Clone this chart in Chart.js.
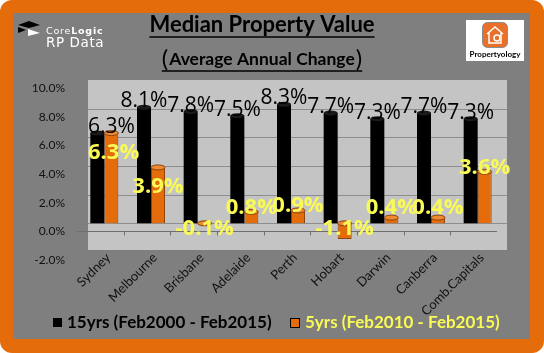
<!DOCTYPE html>
<html lang="en">
<head>
<meta charset="UTF-8">
<title>Median Property Value</title>
<script src="https://cdn.jsdelivr.net/npm/chart.js"></script>
<style>
  html, body { margin: 0; padding: 0; background: #fff; }
  #wrap { width: 544px; height: 353px; }
</style>
</head>
<body>
<div id="wrap"><canvas id="valueChart" width="544" height="353"></canvas></div>
<script>
const cities = ['Sydney', 'Melbourne', 'Brisbane', 'Adelaide', 'Perth', 'Hobart', 'Darwin', 'Canberra', 'Comb.Capitals'];
const change15yrs = [6.3, 8.1, 7.8, 7.5, 8.3, 7.7, 7.3, 7.7, 7.3];
const change5yrs = [6.3, 3.9, -0.1, 0.8, 0.9, -1.1, 0.4, 0.4, 3.6];
const yTicks = [-2, 0, 2, 4, 6, 8, 10];
const seriesNames = ['15yrs (Feb2000 - Feb2015)', '5yrs (Feb2010 - Feb2015)'];

const ORANGE = '#E46C0A';
const ORANGE_EDGE = '#8a4510';
const PANEL = '#7f7f7f';
const WALL = '#c4c4c4';
const YELLOW = '#FAFA55';
const FONT = 'Lato, "Open Sans", sans-serif';
const LABEL_FONT = '"Open Sans", Lato, sans-serif';

function pct(v) { return v.toFixed(1) + '%'; }

// orange frame, grey panel and the light "wall" behind the bars
const framePlugin = {
  id: 'frame',
  beforeDraw(chart) {
    const ctx = chart.ctx;
    const area = chart.chartArea;
    const y = chart.scales.y;
    ctx.save();
    ctx.fillStyle = ORANGE;
    ctx.beginPath();
    ctx.roundRect(0, 0, chart.width, chart.height, 12);
    ctx.fill();
    ctx.fillStyle = PANEL;
    ctx.fillRect(13, 13, 517, 326);

    const wl = area.left + 7, wr = area.right + 6;
    ctx.fillStyle = WALL;
    ctx.fillRect(wl, y.getPixelForValue(10), wr - wl, y.getPixelForValue(-2) - y.getPixelForValue(10) - 2);
    ctx.strokeStyle = '#8e8e8e';
    ctx.lineWidth = 1;
    yTicks.forEach(v => {
      if (v <= -2 || v >= 10) return;
      const py = Math.round(y.getPixelForValue(v)) + 0.5;
      ctx.beginPath();
      ctx.moveTo(wl, py);
      ctx.lineTo(wr, py);
      ctx.stroke();
    });
    // floor front edge with category ticks
    const fy = Math.round(y.getPixelForValue(0)) + 8.5;
    ctx.strokeStyle = '#6f6f6f';
    ctx.beginPath();
    ctx.moveTo(area.left - 4, fy);
    ctx.lineTo(area.right - 4, fy);
    const step = (area.right - area.left) / cities.length;
    for (let i = 1; i < cities.length; i++) {
      const tx = Math.round(area.left + i * step - 4) + 0.5;
      ctx.moveTo(tx, fy);
      ctx.lineTo(tx, fy + 4);
    }
    ctx.stroke();
    ctx.restore();
  }
};

// cylinder caps and value labels
const labelPlugin = {
  id: 'valueLabels',
  afterDatasetsDraw(chart) {
    const ctx = chart.ctx;
    const y = chart.scales.y;
    const wl = chart.chartArea.left + 7;
    ctx.save();
    chart.data.datasets.forEach((ds, di) => {
      chart.getDatasetMeta(di).data.forEach(bar => {
        const top = Math.min(bar.y, bar.base);
        ctx.beginPath();
        ctx.ellipse(bar.x, top, bar.width / 2, 2.5, 0, 0, Math.PI * 2);
        ctx.fillStyle = di === 0 ? '#1a1a1a' : '#f08a30';
        ctx.fill();
        if (di === 1) {
          ctx.strokeStyle = ORANGE_EDGE;
          ctx.lineWidth = 1;
          ctx.stroke();
        }
      });
    });

    ctx.textAlign = 'left';
    ctx.textBaseline = 'alphabetic';
    ctx.font = '21px ' + LABEL_FONT;
    chart.getDatasetMeta(0).data.forEach((bar, i) => {
      const v = change15yrs[i];
      const txt = pct(v);
      const w = ctx.measureText(txt).width;
      ctx.fillStyle = '#000';
      ctx.fillText(txt, Math.max(wl, bar.x - w / 2), y.getPixelForValue(v));
    });
    ctx.font = 'bold 22px ' + LABEL_FONT;
    chart.getDatasetMeta(1).data.forEach((bar, i) => {
      const v = change5yrs[i];
      const txt = pct(v);
      const w = ctx.measureText(txt).width;
      let by;
      if (v >= 3.8) by = y.getPixelForValue(v) + 26;
      else if (v >= 0) by = y.getPixelForValue(Math.max(v, 0.8)) + 2;
      else by = y.getPixelForValue(0) + 12;
      ctx.fillStyle = YELLOW;
      ctx.fillText(txt, Math.max(wl, bar.x - w / 2), by);
    });
    ctx.restore();
  }
};

// titles, logos and legend
const headerPlugin = {
  id: 'header',
  afterDraw(chart) {
    const ctx = chart.ctx;
    ctx.save();
    ctx.textAlign = 'left';
    ctx.textBaseline = 'alphabetic';
    ctx.fillStyle = '#000';
    ctx.strokeStyle = '#000';
    ctx.lineWidth = 1.5;

    // main title
    ctx.font = 'bold 22px ' + FONT;
    const t1 = 'Median Property Value';
    const w1 = ctx.measureText(t1).width;
    ctx.fillText(t1, 262 - w1 / 2, 32);
    ctx.beginPath();
    ctx.moveTo(262 - w1 / 2, 37);
    ctx.lineTo(262 + w1 / 2, 37);
    ctx.stroke();

    // subtitle with tall brackets
    const inner = 'Average Annual Change';
    ctx.font = 'bold 17.5px ' + FONT;
    const wi = ctx.measureText(inner).width;
    ctx.font = '24px ' + FONT;
    const wp = ctx.measureText('(').width;
    const total = wi + 2 * wp + 2;
    const sx = 262 - total / 2;
    ctx.fillText('(', sx, 67);
    ctx.font = 'bold 17.5px ' + FONT;
    ctx.fillText(inner, sx + wp + 1, 65);
    ctx.font = '24px ' + FONT;
    ctx.fillText(')', sx + wp + wi + 2, 67);
    ctx.beginPath();
    ctx.moveTo(sx, 71);
    ctx.lineTo(sx + total, 71);
    ctx.stroke();

    // CoreLogic RP Data mark
    ctx.fillStyle = '#000';
    ctx.beginPath();
    ctx.moveTo(18, 25); ctx.lineTo(29, 21); ctx.lineTo(40, 25); ctx.lineTo(29, 28);
    ctx.closePath(); ctx.fill();
    ctx.beginPath();
    ctx.moveTo(18, 27); ctx.lineTo(26, 30); ctx.lineTo(18, 33);
    ctx.closePath(); ctx.fill();
    ctx.fillStyle = '#fff';
    ctx.beginPath();
    ctx.moveTo(28, 29); ctx.lineTo(40, 33); ctx.lineTo(28, 36);
    ctx.closePath(); ctx.fill();
    ctx.letterSpacing = '0.8px';
    ctx.font = '9.5px "DejaVu Sans", sans-serif';
    ctx.fillText('Core', 46, 34);
    const wc = ctx.measureText('Core').width;
    ctx.font = 'bold 9.5px "DejaVu Sans", sans-serif';
    ctx.fillText('Logic', 46 + wc, 34);
    ctx.letterSpacing = '0.6px';
    ctx.font = '13.5px "DejaVu Sans", sans-serif';
    ctx.fillText('RP Data', 46, 47);
    ctx.letterSpacing = '0px';

    // Propertyology badge
    ctx.fillStyle = '#fff';
    ctx.fillRect(466, 20, 58, 41);
    ctx.fillStyle = '#E8702A';
    ctx.strokeStyle = '#8c8c8c';
    ctx.lineWidth = 1;
    ctx.beginPath();
    ctx.roundRect(482.5, 22.5, 25, 25, 5);
    ctx.fill(); ctx.stroke();
    ctx.strokeStyle = '#fff';
    ctx.lineWidth = 1.5;
    ctx.beginPath();
    ctx.moveTo(487, 34); ctx.lineTo(495, 27); ctx.lineTo(503, 34);
    ctx.moveTo(489, 33); ctx.lineTo(489, 43); ctx.lineTo(501, 43); ctx.lineTo(501, 33);
    ctx.stroke();
    ctx.beginPath();
    ctx.arc(497, 38, 3, 0, Math.PI * 2);
    ctx.stroke();
    ctx.fillStyle = '#000';
    ctx.font = 'bold 8px ' + FONT;
    const wpName = ctx.measureText('Propertyology').width;
    ctx.fillText('Propertyology', 495 - wpName / 2, 57);

    // legend
    ctx.font = 'bold 17px ' + FONT;
    ctx.fillStyle = '#000';
    ctx.fillRect(53, 318, 9, 9);
    ctx.fillText(seriesNames[0], 67, 328);
    ctx.fillStyle = ORANGE;
    ctx.fillRect(290.5, 318.5, 9, 9);
    ctx.strokeStyle = '#000';
    ctx.lineWidth = 1;
    ctx.strokeRect(290.5, 318.5, 9, 9);
    ctx.fillStyle = YELLOW;
    ctx.fillText(seriesNames[1], 305, 328);
    ctx.restore();
  }
};

new Chart(document.getElementById('valueChart'), {
  type: 'bar',
  data: {
    labels: cities,
    datasets: [
      {
        label: seriesNames[0],
        data: change15yrs,
        backgroundColor: '#000',
        borderWidth: 0
      },
      {
        label: seriesNames[1],
        data: change5yrs,
        backgroundColor: ORANGE,
        borderColor: ORANGE_EDGE,
        borderWidth: 1
      }
    ]
  },
  options: {
    responsive: false,
    animation: false,
    layout: { padding: { left: 0, right: 43, top: 80, bottom: 0 } },
    datasets: { bar: { categoryPercentage: 0.6, barPercentage: 1.0 } },
    plugins: {
      legend: { display: false },
      tooltip: { enabled: false }
    },
    scales: {
      x: {
        grid: { display: false, drawTicks: false },
        border: { display: false },
        afterFit(scale) { scale.height = 101; },
        ticks: {
          color: '#111',
          font: { family: FONT, size: 13 },
          minRotation: 45,
          maxRotation: 45,
          padding: -2,
          labelOffset: 4,
          autoSkip: false
        }
      },
      y: {
        min: -2,
        max: 10,
        grid: { display: false, drawTicks: false },
        border: { display: false },
        afterFit(scale) { scale.width = 81; },
        afterBuildTicks(scale) { scale.ticks = yTicks.map(v => ({ value: v })); },
        ticks: {
          color: '#111',
          font: { family: FONT, size: 12 },
          padding: 16,
          labelOffset: 8,
          callback: v => pct(v)
        }
      }
    }
  },
  plugins: [framePlugin, labelPlugin, headerPlugin]
});
</script>
</body>
</html>
